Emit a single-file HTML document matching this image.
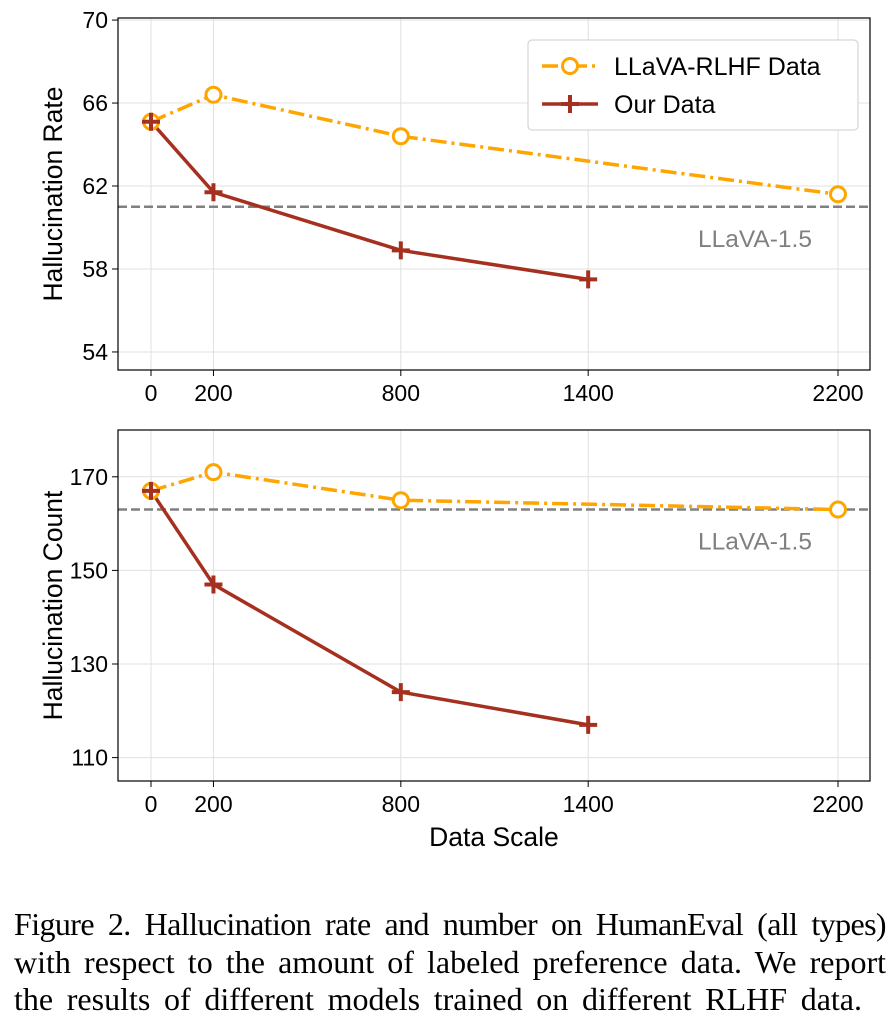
<!DOCTYPE html>
<html><head><meta charset="utf-8"><style>
body{margin:0;background:#fff;width:894px;height:1026px;overflow:hidden}
.cap{position:absolute;left:14px;top:906px;width:872px;font-family:"Liberation Serif",serif;font-size:32px;line-height:37.5px;color:#000}
.cap div{text-align:justify;text-align-last:justify;white-space:normal;height:37.5px;overflow:visible}
.cap .l1{letter-spacing:-0.6px}
.cap .l3{width:848px}
</style></head><body>
<svg id="chart" width="894" height="880" style="position:absolute;left:0;top:0" font-family="Liberation Sans, sans-serif"></svg>
<div class="cap"><div class="l1">Figure 2. Hallucination rate and number on HumanEval (all types)</div><div>with respect to the amount of labeled preference data. We report</div><div class="l3">the results of different models trained on different RLHF data.</div></div>
<script>
const xTicks=[0,200,800,1400,2200];
const rlhfX=[0,200,800,2200];
const oursX=[0,200,800,1400];
const rateRlhf=[65.1,66.4,64.4,61.6];
const rateOurs=[65.1,61.7,58.9,57.5];
const rateBase=61.0;
const rateTicks=[54,58,62,66,70];
const countRlhf=[167,171,165,163];
const countOurs=[167,147,124,117];
const countBase=163;
const countTicks=[110,130,150,170];

const NS="http://www.w3.org/2000/svg";
const svg=document.getElementById('chart');
function mk(t,a,p){const e=document.createElementNS(NS,t);for(const k in a)e.setAttribute(k,a[k]);(p||svg).appendChild(e);return e;}
const L=118,R=870;
const xs=v=>151+v*(838-151)/2200;
const ORANGE="#ffa500",RED="#a5301f";
function panel(top,bot,ymin,ymax,ticks,rl,ou,base,ylabel,pre,legend){
  const ys=v=>bot-(v-ymin)/(ymax-ymin)*(bot-top);
  const g=mk('g',{});
  
  
  xTicks.forEach(t=>{const l=mk('line',{x1:xs(t),x2:xs(t),y1:top,y2:bot,stroke:'#e0e0e0','stroke-width':1},g);
    mk('line',{x1:xs(t),x2:xs(t),y1:bot,y2:bot+6,stroke:'#000','stroke-width':1},g);
    const tx=mk('text',{x:xs(t),y:bot+31,'text-anchor':'middle','font-size':23},g);tx.textContent=t;});
  ticks.forEach(t=>{mk('line',{x1:L,x2:R,y1:ys(t),y2:ys(t),stroke:'#e0e0e0','stroke-width':1},g);
    mk('line',{x1:L-6,x2:L,y1:ys(t),y2:ys(t),stroke:'#000','stroke-width':1},g);
    const tx=mk('text',{x:L-10,y:ys(t)+8,'text-anchor':'end','font-size':23},g);tx.textContent=t;});
  const bl=mk('line',{x1:L,x2:R,y1:ys(base),y2:ys(base),stroke:'#808080','stroke-width':2.5,'stroke-dasharray':'9 4'},g);
  
  const bt=mk('text',{x:812,y:ys(base)+40,'text-anchor':'end','font-size':24.5,fill:'#808080'},g);bt.textContent='LLaVA-1.5';
  
  const p1=mk('polyline',{points:rlhfX.map((x,i)=>xs(x)+','+ys(rl[i])).join(' '),fill:'none',stroke:ORANGE,'stroke-width':3.5,'stroke-dasharray':'16 5 3 5'},g);
  
  const p2=mk('polyline',{points:oursX.map((x,i)=>xs(x)+','+ys(ou[i])).join(' '),fill:'none',stroke:RED,'stroke-width':3.5},g);
  
  rlhfX.forEach((x,i)=>{const c=mk('circle',{cx:xs(x),cy:ys(rl[i]),r:7.5,fill:'#fff',stroke:ORANGE,'stroke-width':3},g);});
  oursX.forEach((x,i)=>{const cx=xs(x),cy=ys(ou[i]);const pp=mk('path',{d:`M${cx-9},${cy}H${cx+9}M${cx},${cy-9}V${cy+9}`,stroke:RED,'stroke-width':4},g);});
  const fr=mk('rect',{x:L,y:top,width:R-L,height:bot-top,fill:'none',stroke:'#000','stroke-width':1.2},g);
  
  const yl=mk('text',{x:0,y:0,transform:`translate(62,${(top+bot)/2}) rotate(-90)`,'text-anchor':'middle','font-size':26.5},g);yl.textContent=ylabel;
  
  if(legend){
    const lg=mk('g',{},g);
    mk('rect',{x:528,y:40,width:330,height:90,rx:4,fill:'#fff',stroke:'#ccc','stroke-width':1},lg);
    mk('line',{x1:542,x2:598,y1:66,y2:66,stroke:ORANGE,'stroke-width':3.5,'stroke-dasharray':'16 5 3 5'},lg);
    mk('circle',{cx:570,cy:66,r:7.5,fill:'#fff',stroke:ORANGE,'stroke-width':3},lg);
    const t1=mk('text',{x:614,y:75,'font-size':25},lg);t1.textContent='LLaVA-RLHF Data';
    mk('line',{x1:542,x2:598,y1:104,y2:104,stroke:RED,'stroke-width':3.5},lg);
    mk('path',{d:'M561,104H579M570,95V113',stroke:RED,'stroke-width':4},lg);
    const t2=mk('text',{x:614,y:113,'font-size':25},lg);t2.textContent='Our Data';
  }
}
panel(18,370,53.13,70.1,rateTicks,rateRlhf,rateOurs,rateBase,'Hallucination Rate','rate',true);
panel(430,781,105,180,countTicks,countRlhf,countOurs,countBase,'Hallucination Count','count',false);
const xl=mk('text',{x:494,y:846,'text-anchor':'middle','font-size':26.5});xl.textContent='Data Scale';

</script>
</body></html>
